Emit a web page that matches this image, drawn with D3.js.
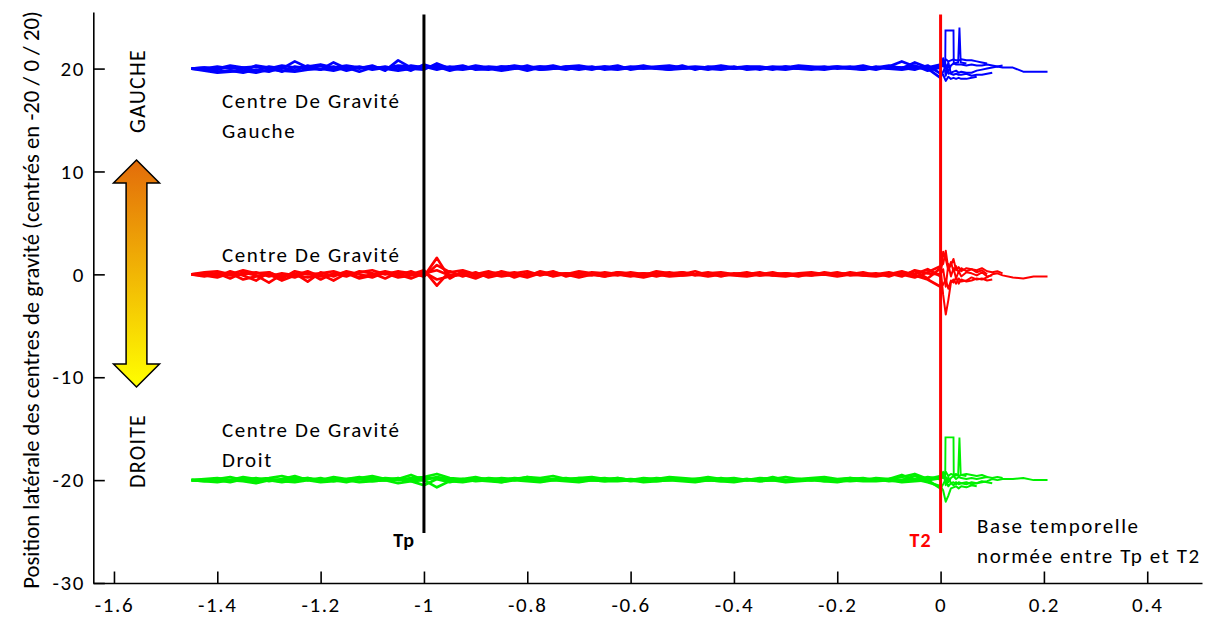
<!DOCTYPE html>
<html><head><meta charset="utf-8">
<script src="https://cdn.jsdelivr.net/npm/d3@7"></script>
<style>
html,body{margin:0;padding:0;background:#fff;}
svg{display:block;}
text{font-family:Calibri,Carlito,Lato,sans-serif;fill:#000;}
</style></head><body>
<svg id="chart" width="1224" height="619"></svg>
<script>
// ---------- DATA ----------
const xTicks = [-1.6,-1.4,-1.2,-1,-0.8,-0.6,-0.4,-0.2,0,0.2,0.4];
const xTickLabels = ["-1.6","-1.4","-1.2","-1","-0.8","-0.6","-0.4","-0.2","0","0.2","0.4"];
const yTicks = [-30,-20,-10,0,10,20];
const yTickLabels = ["-30","-20","-10","0","10","20"];

// normalised time base (Tp = -1, T2 = 0)
const time = [
 -1.45,-1.425,-1.4,-1.375,-1.35,-1.325,-1.3,-1.275,-1.25,-1.225,
 -1.2,-1.175,-1.15,-1.125,-1.1,-1.075,-1.05,-1.025,-1.0,-0.975,
 -0.95,-0.925,-0.9,-0.875,-0.85,-0.825,-0.8,-0.775,-0.75,-0.725,
 -0.7,-0.675,-0.65,-0.625,-0.6,-0.575,-0.55,-0.525,-0.5,-0.475,
 -0.45,-0.425,-0.4,-0.375,-0.35,-0.325,-0.3,-0.275,-0.25,-0.225,
 -0.2,-0.175,-0.15,-0.125,-0.1,-0.075,-0.05,-0.025,0,
 0.005,0.01,0.015,0.02,0.025,0.03,0.035,0.04,0.05,0.06,
 0.07,0.08,0.09,0.1,0.11,0.12,0.14,0.16,0.18,0.207];

const groupCenters = [20, 0, -20];   // "centrés en -20 / 0 / 20"

// lateral deviations around each centre, one array per trial
const blueTrial1 = [0,0.1,-0.1,0.2,-0.2,0.3,0.1,-0.3,0.2,0.0, 0.3,-0.1,0.2,0.0,0.3,-0.2,0.8,0.1,0.2,-0.1, 0.2,0.0,0.3,0.1,-0.1,0.2,0.0,0.2,0.1,-0.1, 0.2,0.0,0.1,0.3,-0.1,0.1,0.0,0.2,0.0,0.1, -0.1,0.2,0.0,0.1,0.1,-0.1,0.2,0.0,0.1,0.2, 0.0,0.1,-0.1,0.2,0.0,0.1,0.3,-0.2,0.1,
 0.5,0.9,0.7,0.8,0.9,0.8,0.8,0.9,0.8,0.8, 0.7,0.6,0.5,null,null,null,null,null,null,null];
const blueTrial2 = [0,-0.1,-0.3,-0.2,-0.4,-0.1,-0.3,0.1,-0.2,0.3, -0.1,0.2,-0.2,0.1,0.0,0.2,-0.1,0.3,0.1,0.2, -0.2,0.1,0.0,-0.1,0.2,0.0,0.3,-0.1,0.0,0.2, 0.1,-0.1,0.2,0.0,0.1,0.3,0.0,-0.1,0.2,0.0, 0.1,0.0,0.2,-0.1,0.0,0.2,0.1,0.0,-0.1,0.1, 0.2,0.0,0.1,-0.1,0.2,0.1,-0.1,0.3,-0.5,
 -0.6,-1.2,-0.8,-1.0,-0.9,-1.0,-0.9,-1.0,-1.0,-0.9, -0.8,null,null,null,null,null,null,null,null,null];
const blueTrial3 = [0,0.0,0.2,0.0,0.1,-0.2,0.2,0.0,0.7,0.1, -0.1,0.6,0.0,0.2,-0.1,0.1,0.2,-0.2,0.4,0.0, 0.1,0.3,-0.1,0.0,0.2,0.1,-0.2,0.1,0.3,0.0, 0.0,0.2,-0.1,0.1,0.0,0.2,0.1,0.0,0.3,-0.1, 0.2,0.1,0.0,0.2,-0.1,0.1,0.2,0.0,0.1,0.0, 0.1,0.2,0.0,0.1,0.3,0.0,0.6,0.1,0.4,
 0.2,0.4,-0.3,0.3,0.5,0.4,0.4,0.4,0.3,0.4, 0.3,0.3,0.4,0.3,0.2,0.3,null,null,null,null];
const blueTrial4 = [0,-0.2,-0.4,-0.3,-0.2,-0.4,-0.1,-0.2,-0.3,-0.1, 0.0,-0.2,0.1,-0.3,0.1,0.0,-0.2,0.0,-0.1,0.5, 0.0,-0.1,0.1,0.0,-0.2,0.0,0.1,-0.1,0.0,0.1, -0.1,0.1,0.0,-0.1,0.1,0.0,0.1,-0.1,0.0,0.1, 0.0,-0.1,0.1,0.0,0.1,0.0,-0.1,0.1,0.0,-0.1, 0.1,0.0,-0.1,0.1,0.0,-0.1,0.1,0.0,-0.9,
 -0.3,0.2,-0.5,-0.4,-0.3,-0.2,-0.4,-0.3,-0.4,-0.4, -0.2,-0.1,0.0,0.1,0.2,0.1,0.1,-0.3,-0.3,-0.3];
const blueTrial5 = [0,0.1,0.0,0.3,0.1,0.2,0.0,0.3,0.1,0.2, 0.4,0.1,0.3,0.1,0.2,0.0,0.3,0.2,0.1,0.3, 0.1,0.2,0.0,0.2,0.1,0.3,0.1,0.2,0.0,0.2, 0.3,0.1,0.2,0.0,0.2,0.1,0.2,0.3,0.1,0.2, 0.1,0.3,0.1,0.2,0.2,0.0,0.1,0.3,0.2,0.1, 0.2,0.1,0.3,0.0,0.2,0.7,0.2,0.1,0.2,
 1.0,-0.7,0.6,-0.5,-0.6,-0.5,-0.6,-0.6,-0.5,-0.7, -0.6,-0.6,-0.5,-0.4,null,null,null,null,null,null];

const redTrial1 = [0,0.1,-0.2,0.3,-0.1,-0.6,0.2,-0.3,0.1,-0.7, 0.2,-0.2,0.3,0.0,-0.3,0.2,-0.1,0.3,-0.2,1.6, -0.4,0.3,-0.2,0.1,0.2,-0.3,0.1,0.0,0.3,-0.2, 0.1,0.0,-0.2,0.2,0.0,0.1,-0.2,0.1,0.0,0.3, -0.1,0.1,0.0,0.2,-0.1,0.1,0.0,-0.2,0.1,0.0, 0.2,-0.1,0.0,0.1,-0.2,0.2,0.0,0.5,-0.2,
 2.2,1.5,0.4,1.2,0.3,0.8,0.2,0.6,0.3,0.5, 0.2,0.4,0.0,null,null,null,null,null,null,null];
const redTrial2 = [0,-0.2,0.1,-0.4,0.2,-0.1,-0.8,0.0,-0.3,0.2, -0.5,0.1,-0.2,0.3,0.1,-0.4,0.2,0.0,0.4,-1.1, 0.3,-0.2,0.2,-0.3,0.0,0.2,-0.2,0.3,0.0,0.1, -0.2,0.2,0.1,-0.1,0.2,0.0,0.1,-0.1,0.2,-0.1, 0.1,-0.2,0.1,0.0,0.2,-0.1,0.1,0.0,-0.1,0.2, 0.0,0.1,-0.1,0.0,0.2,-0.1,0.3,-0.4,0.6,
 -2.0,-3.9,-2.5,-0.8,-0.5,-0.9,-0.4,-0.7,-0.6,-0.3, -0.5,-0.4,-0.6,-0.5,null,null,null,null,null,null];
const redTrial3 = [0,0.2,0.3,0.0,0.4,0.1,0.2,-0.4,0.3,0.0, 0.1,0.3,-0.1,0.2,0.4,0.0,0.3,0.1,-0.2,0.9, 0.2,0.4,0.0,0.3,-0.1,0.1,0.3,-0.1,0.2,0.0, 0.3,0.1,0.0,0.2,0.1,-0.1,0.3,0.1,0.2,0.0, 0.1,0.2,0.0,0.1,0.0,0.2,-0.1,0.1,0.2,0.0, 0.1,0.0,0.2,-0.1,0.1,0.0,-0.3,0.2,0.8,
 1.0,2.3,0.5,0.9,1.5,0.4,0.7,0.3,0.6,0.5, 0.4,0.6,0.3,0.2,0.3,0.1,null,null,null,null];
const redTrial4 = [0,-0.1,-0.3,0.1,-0.5,-0.2,0.0,-0.6,-0.1,-0.3, 0.0,-0.6,0.1,-0.4,-0.1,0.1,-0.3,-0.1,0.2,-0.5, -0.2,0.0,-0.4,0.1,-0.2,0.0,-0.3,0.1,-0.1,0.0, -0.3,0.0,-0.2,0.0,-0.1,-0.3,0.0,-0.2,-0.1,0.0, -0.2,0.0,-0.1,-0.2,0.0,-0.1,-0.2,0.0,-0.1,0.0, -0.2,0.0,-0.1,-0.2,0.0,0.3,-0.1,-0.5,-1.2,
 -1.0,-0.5,-1.4,-0.6,-0.8,-0.3,-0.9,-0.5,-0.7,-0.6, -0.4,-0.5,-0.3,0.0,0.1,-0.1,-0.3,-0.4,-0.2,-0.2];
const redTrial5 = [0,0.0,0.1,-0.1,0.0,0.2,-0.2,0.1,-0.1,0.3, -0.2,0.0,0.2,-0.3,0.0,0.3,0.0,-0.4,0.1,0.4, -0.1,0.0,0.1,-0.2,0.3,0.0,-0.1,0.2,-0.2,0.1, 0.0,-0.1,0.2,0.0,-0.2,0.1,0.0,0.2,-0.1,0.0, 0.2,-0.1,0.0,0.1,-0.1,0.0,0.1,-0.1,0.0,0.1, -0.1,0.2,0.0,-0.1,0.1,-0.2,0.4,0.1,0.0,
 0.5,-1.2,1.0,-0.2,0.6,-0.4,0.3,-0.2,0.2,0.1, -0.1,0.2,-0.2,-0.1,null,null,null,null,null,null];

const greenTrial1 = [0,0.0,0.1,0.3,0.0,0.2,-0.1,0.1,0.4,0.0, 0.2,-0.1,0.1,0.3,0.0,0.2,0.1,0.5,0.0,0.3, 0.1,0.0,0.2,0.1,0.0,0.2,0.1,0.0,0.1,0.2, 0.0,0.1,0.2,0.0,0.1,0.0,0.2,0.1,0.0,0.1, 0.2,0.0,0.1,0.0,0.1,0.2,0.0,0.1,0.0,0.1, 0.0,0.2,0.1,0.0,0.1,0.5,0.0,0.3,0.1,
 0.5,0.8,0.4,0.6,0.5,0.6,0.4,0.5,0.6,0.5, 0.4,0.5,0.3,null,null,null,null,null,null,null];
const greenTrial2 = [0,-0.1,0.0,-0.2,0.1,-0.1,0.0,-0.2,0.0,0.2, -0.1,0.0,-0.2,0.1,-0.1,0.0,0.2,-0.1,-0.5,0.1, -0.2,0.1,-0.1,0.0,-0.2,0.1,0.0,-0.1,0.0,0.1, -0.1,0.0,-0.1,0.1,-0.1,0.0,-0.1,0.0,0.1,-0.1, 0.0,-0.1,0.0,0.1,-0.1,0.0,-0.1,0.0,0.1,-0.1, 0.0,-0.1,0.0,0.1,-0.1,0.0,0.1,-0.2,-0.6,
 -1.0,-2.1,-1.5,-0.8,-0.7,-0.6,-0.8,-0.6,-0.7,-0.5, -0.6,null,null,null,null,null,null,null,null,null];
const greenTrial3 = [0,0.1,0.2,0.0,0.3,0.1,0.2,0.4,0.1,0.2, 0.0,0.3,0.1,0.2,0.4,0.1,0.0,0.2,0.3,0.6, 0.2,0.1,0.3,0.0,0.2,0.1,0.3,0.2,0.4,0.1, 0.2,0.3,0.1,0.2,0.0,0.2,0.1,0.3,0.2,0.1, 0.3,0.1,0.2,0.0,0.2,0.1,0.3,0.1,0.2,0.3, 0.1,0.2,0.0,0.2,0.1,0.3,0.6,0.1,0.4,
 0.2,0.3,-0.2,0.2,0.4,0.1,0.3,0.2,0.1,0.2, 0.1,0.2,0.3,0.2,0.3,0.2,null,null,null,null];
const greenTrial4 = [0,-0.1,-0.2,0.0,-0.1,-0.3,0.0,-0.1,-0.2,0.0, -0.2,-0.1,0.0,-0.2,-0.1,0.0,-0.3,-0.1,0.0,-0.7, -0.1,-0.2,0.0,-0.1,-0.2,0.0,-0.1,-0.2,0.0,-0.1, -0.2,0.0,-0.1,-0.1,0.0,-0.2,-0.1,0.0,-0.1,-0.2, 0.0,-0.1,-0.2,0.0,-0.1,0.0,-0.2,-0.1,0.0,-0.1, -0.2,0.0,-0.1,-0.1,0.0,-0.2,-0.1,0.0,-0.8,
 -0.4,0.1,-0.6,-0.3,-0.2,-0.4,-0.2,-0.3,-0.4,-0.2, -0.3,-0.2,-0.1,0.1,0.0,0.1,0.1,0.2,0.0,0.0];
const greenTrial5 = [0,0.0,0.1,0.0,0.2,0.0,0.1,0.0,0.2,0.1, 0.0,0.2,0.0,0.1,0.2,0.0,0.1,0.0,0.2,0.2, 0.0,0.1,0.0,0.2,0.1,0.0,0.3,0.0,0.1,0.0, 0.2,0.1,0.0,0.2,0.0,0.1,0.0,0.2,0.0,0.1, 0.0,0.2,0.0,0.1,0.0,0.3,0.0,0.1,0.0,0.2, 0.0,0.1,0.2,0.0,0.1,0.0,0.4,0.0,0.2,
 0.8,-0.5,0.3,-0.3,-0.5,-0.2,-0.4,-0.3,-0.2,-0.4, -0.3,-0.1,-0.2,-0.3,null,null,null,null,null,null];

// short excursions just after T2 (own time base)
const spikeTime  = [0.0, 0.009, 0.0095, 0.025, 0.0255, 0.034, 0.0365, 0.039, 0.05];
const blueSpike  = [0.3, 0.4, 3.7, 3.7, 0.5, 0.6, 4.0, 0.6, 0.5];
const greenSpike = [0.2, 0.3, 4.15, 4.15, 0.4, 0.5, 4.15, 0.5, 0.4];

const markerTimes  = [-1, 0];
const markerLabels = ["Tp", "T2"];
const markerColors = ["#000000", "#ff0000"];
const markerExtent = [-25.15, 25.25];

// ---------- CHART ----------
const svg = d3.select("#chart");
const x = d3.scaleLinear().domain([-1.64, 0.506]).range([93.3, 1202]);
const y = d3.scaleLinear().domain([-30, 25.5]).range([583, 12]);

const groups = [
  {center: groupCenters[0], color: "#0000ff", trials: [blueTrial1,blueTrial2,blueTrial3,blueTrial4,blueTrial5], spike: blueSpike},
  {center: groupCenters[1], color: "#ff0000", trials: [redTrial1,redTrial2,redTrial3,redTrial4,redTrial5], spike: null},
  {center: groupCenters[2], color: "#00f000", trials: [greenTrial1,greenTrial2,greenTrial3,greenTrial4,greenTrial5], spike: greenSpike}
];

// gradient for the arrow
const defs = svg.append("defs");
const grad = defs.append("linearGradient").attr("id","arrowGrad")
  .attr("x1",0).attr("y1",0).attr("x2",0).attr("y2",1);
grad.append("stop").attr("offset","0%").attr("stop-color","#e36c0a");
grad.append("stop").attr("offset","100%").attr("stop-color","#ffff00");

// axes
const tickLS = 1.6;
const xAxis = d3.axisBottom(x).tickValues(xTicks).tickFormat((d,i)=>xTickLabels[i])
  .tickSizeInner(-11.5).tickSizeOuter(0).tickPadding(14);
const gx = svg.append("g").attr("transform",`translate(0,${y(-30)})`).call(xAxis);
const yAxis = d3.axisLeft(y).tickValues(yTicks).tickFormat((d,i)=>yTickLabels[i])
  .tickSizeInner(-11.5).tickSizeOuter(0).tickPadding(8.4);
const gy = svg.append("g").attr("transform",`translate(${x(-1.64)},0)`).call(yAxis);
[gx, gy].forEach(g => {
  g.select(".domain").attr("stroke","#000").attr("stroke-width",1.6);
  g.selectAll(".tick line").attr("stroke","#000").attr("stroke-width",1.6);
  g.selectAll(".tick text").attr("font-size",21).attr("fill","#000")
    .attr("letter-spacing", tickLS)
    .style("font-family","Calibri,Carlito,Lato,sans-serif");
});

// data lines (pre-T2 part drawn as a dense band, post-T2 part thinner)
const line = d3.line().defined(d => d[1] != null).x(d => x(d[0])).y(d => y(d[1]));
const gData = svg.append("g");
groups.forEach(g => {
  g.trials.forEach(tr => {
    const pts = time.map((t,i) => [t, (tr[i] == null) ? null : g.center + tr[i]]);
    const pre = pts.filter(p => p[0] <= 0);
    const post = pts.filter(p => p[0] >= 0);
    gData.append("path").attr("d", line(pre)).attr("fill","none")
      .attr("stroke", g.color).attr("stroke-width",2.7).attr("stroke-linejoin","round");
    gData.append("path").attr("d", line(post)).attr("fill","none")
      .attr("stroke", g.color).attr("stroke-width",2.0).attr("stroke-linejoin","round");
  });
  if (g.spike) {
    const pts = spikeTime.map((t,i) => [t, g.center + g.spike[i]]);
    gData.append("path").attr("d", line(pts)).attr("fill","none")
      .attr("stroke", g.color).attr("stroke-width",1.9).attr("stroke-linejoin","miter");
  }
});

// vertical markers
markerTimes.forEach((t,i) => {
  svg.append("line").attr("x1",x(t)).attr("x2",x(t))
    .attr("y1",y(markerExtent[1])).attr("y2",y(markerExtent[0]))
    .attr("stroke",markerColors[i]).attr("stroke-width",3);
  svg.append("text").attr("x",x(t)-9).attr("y",547).attr("text-anchor","end")
    .attr("font-size",20).attr("font-weight","bold").attr("letter-spacing",1)
    .style("fill",markerColors[i]).text(markerLabels[i]);
});

// annotations
function addText(txt, px, py) {
  return svg.append("text").attr("x",px).attr("y",py).attr("font-size",21)
    .attr("letter-spacing", 1.6).text(txt);
}
addText("Centre De Gravité", 222, 108);
addText("Gauche", 222, 138);
addText("Centre De Gravité", 222, 262);
addText("Centre De Gravité", 222, 437);
addText("Droit", 222, 467);
addText("Base temporelle", 977, 533);
addText("normée entre Tp et T2", 977, 563);

// GAUCHE / DROITE
svg.append("text").attr("transform","translate(144.5,91) rotate(-90)").attr("text-anchor","middle")
  .attr("font-size",22).attr("letter-spacing",1.2).text("GAUCHE");
svg.append("text").attr("transform","translate(144.5,451) rotate(-90)").attr("text-anchor","middle")
  .attr("font-size",22).attr("letter-spacing",1.2).text("DROITE");

// double arrow
const acx = 136.5, aTop = 160, aBot = 387, ahw = 23, asw = 10.4, ahh = 23;
const arrowPts = [[acx,aTop],[acx+ahw,aTop+ahh],[acx+asw,aTop+ahh],[acx+asw,aBot-ahh],[acx+ahw,aBot-ahh],[acx,aBot],
  [acx-ahw,aBot-ahh],[acx-asw,aBot-ahh],[acx-asw,aTop+ahh],[acx-ahw,aTop+ahh]];
svg.append("polygon").attr("points", arrowPts.map(p=>p.join(",")).join(" "))
  .attr("fill","url(#arrowGrad)").attr("stroke","#000").attr("stroke-width",1.5);

// y axis title
const yt = svg.append("text").attr("transform","translate(39,300) rotate(-90)")
  .attr("text-anchor","middle").attr("font-size",17)
  .text("Position latérale des centres de gravité (centrés en -20 / 0 / 20)");
const L = yt.node().getComputedTextLength();
if (L > 0) yt.attr("font-size", 17 * 578 / L);
</script>
</body></html>
